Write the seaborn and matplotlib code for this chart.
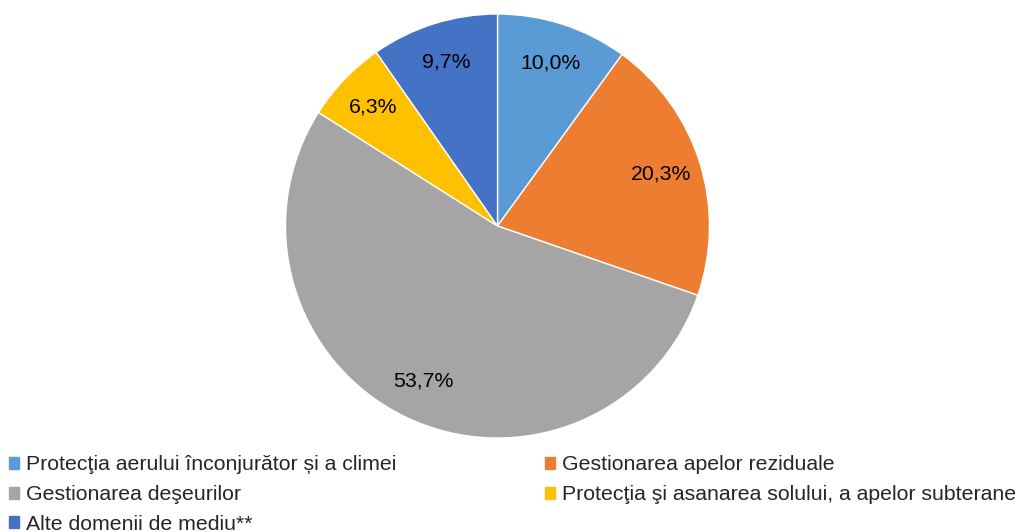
import matplotlib
matplotlib.use("Agg")
import matplotlib.pyplot as plt
import matplotlib.patches as mpatches
import seaborn as sns

categories = [
    "Protecţia aerului înconjurător și a climei",
    "Gestionarea apelor reziduale",
    "Gestionarea deşeurilor",
    "Protecţia şi asanarea solului, a apelor subterane",
    "Alte domenii de mediu**",
]
values = [10.0, 20.3, 53.7, 6.3, 9.7]
labels = ["10,0%", "20,3%", "53,7%", "6,3%", "9,7%"]
colors = ["#5B9BD5", "#ED7D31", "#A5A5A5", "#FFC000", "#4472C4"]

sns.set_theme(style="white")
plt.rcParams["font.family"] = ["Liberation Sans", "DejaVu Sans"]

W, H = 1019, 532
fig = plt.figure(figsize=(W / 100, H / 100), dpi=100)
cx, cy, r = 497.5, 226, 212
ax = fig.add_axes([(cx - r) / W, (H - cy - r) / H, 2 * r / W, 2 * r / H])

wedges, texts = ax.pie(
    values, colors=colors, startangle=90, counterclock=False,
    labels=labels, labeldistance=0.81,
    wedgeprops=dict(edgecolor="white", linewidth=1),
    textprops=dict(fontsize=15.3, color="#000000"),
)
for t in texts:
    t.set_ha("center")
    t.set_va("center")
ax.set_xlim(-1, 1)
ax.set_ylim(-1, 1)
ax.set_aspect("equal")

order = [0, 2, 4, 1, 3]
handles = [mpatches.Patch(color=colors[i], label=categories[i]) for i in order]
fig.legend(
    handles=handles, ncol=2, loc="upper left", bbox_to_anchor=(0.0, 1 - 447 / H),
    frameon=False, fontsize=15.3, handlelength=0.5, handleheight=0.5,
    handletextpad=0.3, columnspacing=7.0, labelspacing=0.5, borderaxespad=0,
    borderpad=0.4,
)

fig.savefig("out.png", dpi=100)
